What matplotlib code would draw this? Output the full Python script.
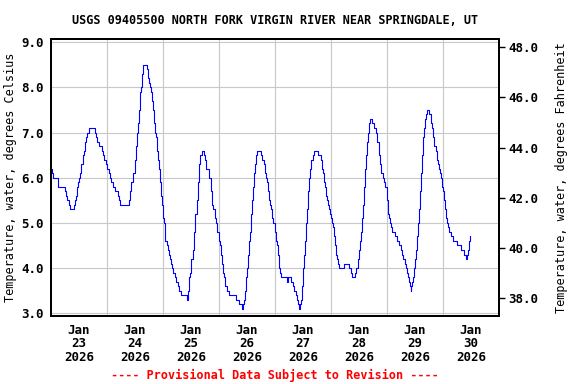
import numpy as np
import matplotlib
matplotlib.use('Agg')
import matplotlib.pyplot as plt
import matplotlib.dates as mdates
from matplotlib.ticker import FormatStrFormatter

# water temperature readings, hours after 2026-01-23 00:00 (step changes)
hours = [0.0, 0.5, 1.0, 3.1, 6.0, 6.5, 7.0, 7.6, 8.3, 9.9, 10.3, 10.6, 11.0, 11.3, 11.7, 12.0, 12.3,
         12.7, 13.0, 13.6, 13.9, 14.1, 14.4, 14.6, 15.0, 15.6, 16.4, 18.9, 19.3, 19.9, 20.7, 21.7,
         22.1, 22.7, 23.6, 24.1, 24.7, 25.3, 25.9, 26.4, 27.6, 28.6, 29.1, 29.7, 33.6, 33.9, 34.4,
         35.3, 35.9, 36.3, 36.9, 37.3, 37.7, 38.0, 38.3, 38.6, 39.0, 39.6, 41.0, 41.4, 42.0, 42.4,
         42.9, 43.3, 43.7, 44.1, 44.6, 45.0, 45.3, 45.7, 46.1, 46.6, 47.0, 47.4, 47.9, 48.3, 48.7,
         49.0, 49.6, 50.0, 50.4, 50.9, 51.3, 51.7, 52.4, 53.0, 53.6, 54.3, 55.0, 55.7, 58.3, 58.5,
         59.0, 59.3, 59.6, 60.1, 60.7, 61.3, 61.9, 62.4, 63.0, 63.6, 64.0, 64.6, 65.7, 66.1, 66.4,
         67.9, 68.6, 69.1, 69.6, 70.1, 70.7, 71.3, 71.9, 72.4, 72.9, 73.4, 73.9, 74.3, 74.7, 75.6,
         76.4, 79.3, 80.7, 82.0, 82.4, 82.7, 83.1, 83.6, 84.0, 84.4, 84.9, 85.3, 85.7, 86.1, 86.6,
         87.0, 87.4, 87.9, 88.4, 90.0, 90.3, 91.3, 91.7, 92.1, 92.5, 92.8, 93.1, 93.6, 94.0, 94.4,
         94.9, 95.3, 95.9, 96.3, 96.7, 97.3, 97.7, 98.1, 98.6, 101.3, 101.7, 102.7, 103.6, 104.1,
         104.9, 105.3, 106.0, 106.3, 106.7, 107.1, 107.6, 108.0, 108.4, 108.9, 109.3, 109.7, 110.1,
         110.7, 111.0, 111.6, 112.1, 112.7, 114.3, 115.7, 116.1, 116.6, 117.0, 117.4, 117.9, 118.3,
         118.7, 119.1, 119.6, 120.0, 120.4, 120.7, 121.1, 121.6, 122.0, 122.4, 122.9, 123.4, 125.6,
         127.9, 128.6, 129.1, 130.4, 130.8, 131.4, 131.9, 132.3, 132.7, 133.1, 133.6, 134.0, 134.4,
         134.9, 135.3, 135.7, 136.1, 136.6, 137.7, 138.4, 139.3, 139.9, 140.4, 141.0, 141.6, 142.1,
         142.7, 143.3, 143.9, 144.4, 144.9, 145.3, 145.7, 146.3, 147.3, 148.1, 149.3, 149.9, 150.4,
         151.0, 151.7, 152.1, 152.6, 153.0, 153.3, 153.9, 154.1, 154.4, 154.7, 155.1, 155.6, 156.0,
         156.4, 156.9, 157.3, 157.7, 158.1, 158.6, 159.0, 159.4, 159.9, 160.3, 160.7, 161.0, 161.9,
         162.7, 163.4, 163.9, 164.3, 164.9, 165.3, 165.9, 166.3, 166.7, 167.1, 167.6, 168.0, 168.4,
         168.9, 169.3, 169.7, 170.1, 170.6, 171.3, 172.1, 174.1, 175.9, 177.1, 177.9, 178.4, 178.9,
         179.3, 179.7]
temp_c = [6.2, 6.1, 6.0, 5.8, 5.7, 5.6, 5.5, 5.4, 5.3, 5.4, 5.5, 5.6, 5.7, 5.8, 5.9, 6.0, 6.1,
          6.2, 6.3, 6.4, 6.5, 6.6, 6.7, 6.8, 6.9, 7.0, 7.1, 7.0, 6.9, 6.8, 6.7, 6.6,
          6.5, 6.4, 6.3, 6.2, 6.1, 6.0, 5.9, 5.8, 5.7, 5.6, 5.5, 5.4, 5.5, 5.7, 5.9,
          6.1, 6.4, 6.7, 7.0, 7.2, 7.5, 7.7, 7.9, 8.0, 8.3, 8.5, 8.4, 8.2, 8.1, 8.0,
          7.9, 7.7, 7.5, 7.2, 7.0, 6.9, 6.6, 6.4, 6.2, 5.9, 5.6, 5.4, 5.1, 5.0, 4.8,
          4.6, 4.5, 4.4, 4.3, 4.2, 4.1, 4.0, 3.9, 3.8, 3.7, 3.6, 3.5, 3.4, 3.3, 3.5,
          3.6, 3.8, 3.9, 4.2, 4.4, 4.8, 5.2, 5.5, 5.9, 6.3, 6.5, 6.6, 6.5, 6.4, 6.2,
          6.0, 5.7, 5.4, 5.3, 5.1, 5.0, 4.8, 4.6, 4.5, 4.3, 4.1, 3.9, 3.8, 3.6, 3.5,
          3.4, 3.3, 3.2, 3.1, 3.2, 3.3, 3.5, 3.8, 4.0, 4.3, 4.6, 4.8, 5.2, 5.5, 5.8,
          6.1, 6.3, 6.5, 6.6, 6.5, 6.4, 6.3, 6.1, 6.0, 5.9, 5.8, 5.7, 5.5, 5.4, 5.3,
          5.1, 5.0, 4.8, 4.6, 4.5, 4.3, 4.0, 3.9, 3.8, 3.7, 3.8, 3.7, 3.6, 3.5,
          3.4, 3.3, 3.2, 3.1, 3.2, 3.3, 3.6, 4.0, 4.3, 4.6, 5.0, 5.3, 5.7,
          6.0, 6.2, 6.4, 6.5, 6.6, 6.5, 6.4, 6.2, 6.1, 5.9, 5.8, 5.6, 5.5,
          5.4, 5.3, 5.2, 5.1, 5.0, 4.9, 4.7, 4.5, 4.3, 4.2, 4.1, 4.0, 4.1,
          4.0, 3.9, 3.8, 3.9, 4.0, 4.2, 4.4, 4.6, 4.8, 5.1, 5.4, 5.8, 6.2,
          6.5, 6.8, 7.0, 7.2, 7.3, 7.2, 7.1, 7.0, 6.8, 6.5, 6.3, 6.1, 6.0,
          5.9, 5.8, 5.5, 5.2, 5.1, 5.0, 4.9, 4.8, 4.7, 4.6, 4.5, 4.4, 4.3,
          4.2, 4.1, 4.0, 3.9, 3.8, 3.7, 3.6, 3.5, 3.6, 3.7, 3.8, 4.0, 4.2,
          4.4, 4.7, 5.0, 5.3, 5.7, 6.1, 6.5, 6.9, 7.1, 7.3, 7.4, 7.5, 7.4,
          7.2, 7.1, 6.9, 6.7, 6.6, 6.4, 6.3, 6.2, 6.1, 6.0, 5.8, 5.7, 5.5,
          5.3, 5.1, 5.0, 4.9, 4.8, 4.7, 4.6, 4.5, 4.4, 4.3, 4.2, 4.3, 4.4,
          4.6, 4.7]

title = 'USGS 09405500 NORTH FORK VIRGIN RIVER NEAR SPRINGDALE, UT'
left_label = 'Temperature, water, degrees Celsius'
right_label = 'Temperature, water, degrees Fahrenheit'
footer = '---- Provisional Data Subject to Revision ----'
start = np.datetime64('2026-01-23T00:00')
end = np.datetime64('2026-01-31T00:00')

plt.rcParams['font.family'] = ['DejaVu Sans Mono']
plt.rcParams['font.weight'] = 'bold'
plt.rcParams['font.size'] = 9

times = start + np.round(np.array(hours) * 60).astype(int).astype('timedelta64[m]')

fig = plt.figure(figsize=(5.76, 3.84), dpi=100)
ax = fig.add_axes([51 / 576, 1 - 315.5 / 384, 448 / 576, 276.5 / 384])
ax.plot(times, temp_c, color='#0000ff', lw=0.8, drawstyle='steps-post', zorder=3)

ax.set_xlim(start, end)
c_lo, c_hi = 2.95, 9.07
ax.set_ylim(c_lo, c_hi)
ax.set_yticks(np.arange(3, 9.01, 1.0))
ax.yaxis.set_major_formatter(FormatStrFormatter('%.1f'))

ax.xaxis.set_major_locator(mdates.HourLocator(byhour=12))
ax.xaxis.set_major_formatter(mdates.DateFormatter('%b\n%d\n%Y'))
ax.xaxis.set_minor_locator(mdates.DayLocator())
ax.grid(True, which='minor', axis='x', color='#c8c8c8', lw=0.8)
ax.grid(True, which='major', axis='y', color='#c8c8c8', lw=0.8)
ax.tick_params(axis='x', which='both', length=0, pad=6)
ax.tick_params(axis='y', length=0, pad=5)
for lab in ax.get_xticklabels():
    lab.set_linespacing(1.05)
for sp in ax.spines.values():
    sp.set_linewidth(1.4)

ax.set_ylabel(left_label, fontsize=8.5)
ax.yaxis.set_label_coords(-0.076, 0.5)

ax2 = ax.twinx()
ax2.set_ylim(c_lo * 1.8 + 32, c_hi * 1.8 + 32)
ax2.set_yticks(np.arange(38, 48.1, 2))
ax2.yaxis.set_major_formatter(FormatStrFormatter('%.1f'))
ax2.tick_params(axis='y', length=4, width=1, pad=3)
ax2.set_ylabel(right_label, fontsize=8.5)
ax2.yaxis.set_label_coords(1.125, 0.5)
for sp in ax2.spines.values():
    sp.set_linewidth(1.4)

fig.text(275 / 576, 1 - 20 / 384, title, ha='center', va='center', fontsize=8.5)
fig.text(275 / 576, 1 - 375 / 384, footer, ha='center', va='center', color='red', fontsize=8.5)

fig.savefig('out.png', dpi=100)
